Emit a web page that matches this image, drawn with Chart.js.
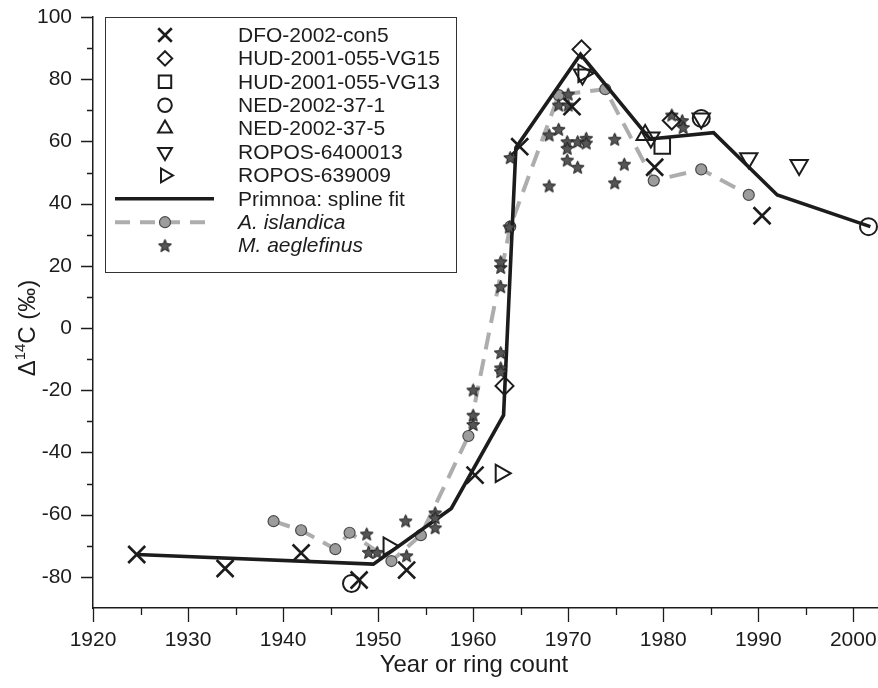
<!DOCTYPE html>
<html>
<head>
<meta charset="utf-8">
<script src="https://cdn.jsdelivr.net/npm/chart.js@4.4.0/dist/chart.umd.min.js"></script>
<style>
  html, body { margin: 0; padding: 0; background: #fff; }
  canvas { display: block; }
</style>
</head>
<body>
<canvas id="c" width="878" height="688"></canvas>
<script>
// --- values: year (or ring count) and Δ14C (‰) ---
const dfoYear   = [1924.6, 1933.9, 1941.9, 1948.0, 1953.0, 1960.2, 1964.9, 1970.4, 1979.1, 1990.4];
const dfoD14C   = [-72.8, -77.3, -72.3, -81.0, -77.8, -47.3, 58.3, 71.2, 51.7, 36.1];

const vg15Year  = [1963.3, 1971.4, 1980.9];
const vg15D14C  = [-18.6, 89.6, 66.7];

const vg13Year  = [1979.9];
const vg13D14C  = [58.5];

const ned1Year  = [1947.2, 1984.0, 2001.6];
const ned1D14C  = [-82.1, 67.4, 32.6];

const ned5Year  = [1978.1];
const ned5D14C  = [62.1];

const ropos13Year = [1971.5, 1978.7, 1984.0, 1989.0, 1994.3];
const ropos13D14C = [81.5, 61.3, 67.4, 54.6, 52.4];

const ropos09Year = [1951.1, 1962.9, 1971.6];
const ropos09D14C = [-70.1, -46.7, 81.9];

const splineYear = [1924.6, 1949.5, 1957.7, 1963.2, 1964.5, 1971.3, 1978.6, 1985.3, 1992.0, 2001.8];
const splineD14C = [-72.8, -75.9, -58.0, -28.0, 58.0, 88.0, 60.8, 62.8, 42.8, 32.6];

const arcticaYear = [1939.0, 1941.9, 1945.5, 1947.0, 1951.4, 1954.5, 1959.5, 1963.9, 1969.0, 1973.9, 1979.0, 1984.0, 1989.0];
const arcticaD14C = [-62.1, -65.0, -71.1, -65.8, -74.9, -66.6, -34.7, 32.6, 74.9, 76.8, 47.4, 51.0, 42.8];

const haddockYear = [1948.8, 1949.0, 1949.9, 1952.9, 1953.0, 1956.0, 1956.0, 1956.0,
                     1960.0, 1960.0, 1960.0, 1962.9, 1962.9, 1962.9, 1962.9, 1962.9, 1962.9, 1963.8, 1963.9,
                     1968.0, 1968.0, 1969.0, 1969.0, 1970.0, 1970.0, 1969.9, 1969.9, 1969.9, 1971.0, 1971.0,
                     1971.9, 1971.9, 1974.9, 1975.9, 1974.9, 1980.9, 1982.0, 1982.1];
const haddockD14C = [-66.2, -72.1, -72.1, -62.0, -73.2, -59.4, -61.0, -64.2,
                     -19.9, -28.0, -31.0, -7.9, -12.8, -14.0, 13.3, 19.5, 21.3, 32.5, 54.8,
                     62.1, 45.7, 63.9, 71.7, 71.7, 75.2, 59.9, 57.8, 54.0, 59.9, 51.7,
                     61.0, 59.5, 60.7, 52.7, 46.7, 68.5, 66.7, 64.5];

const xTicks = [1920, 1930, 1940, 1950, 1960, 1970, 1980, 1990, 2000];
const xMinor = [1925, 1935, 1945, 1955, 1965, 1975, 1985, 1995];
const yTicks = [-80, -60, -40, -20, 0, 20, 40, 60, 80, 100];
const yMinor = [-70, -50, -30, -10, 10, 30, 50, 70, 90];

// --- helpers ---
const pts = (xs, ys) => xs.map((x, i) => ({ x: x, y: ys[i] }));
const INK = '#1c1c1c';
const FONT = '"Liberation Sans", Arial, Helvetica, sans-serif';

// five-pointed star used for M. aeglefinus
function makeStar(r) {
  const c = document.createElement('canvas');
  const s = Math.ceil(r * 2 + 3);
  c.width = s; c.height = s;
  const g = c.getContext('2d');
  g.translate(s / 2, s / 2 + 0.6);
  g.beginPath();
  for (let i = 0; i < 10; i++) {
    const rad = (i % 2 === 0) ? r : r * 0.45;
    const a = -Math.PI / 2 + i * Math.PI / 5;
    g.lineTo(Math.cos(a) * rad, Math.sin(a) * rad);
  }
  g.closePath();
  g.fillStyle = '#555555';
  g.fill();
  g.lineWidth = 1;
  g.strokeStyle = '#1a1a1a';
  g.stroke();
  return c;
}
const starImg = makeStar(6.8);

function markerSet(label, xs, ys, style, radius, rotation, width) {
  return {
    label: label,
    data: pts(xs, ys),
    showLine: false,
    pointStyle: style,
    pointRadius: radius,
    pointRotation: rotation || 0,
    pointBorderWidth: width || 2,
    pointBorderColor: INK,
    pointBackgroundColor: 'rgba(0,0,0,0)',
    clip: false,
    order: 0
  };
}

const datasets = [
  markerSet('DFO-2002-con5', dfoYear, dfoD14C, 'crossRot', 12, 0, 2.6),
  markerSet('HUD-2001-055-VG15', vg15Year, vg15D14C, 'rectRot', 9, 0, 2),
  markerSet('HUD-2001-055-VG13', vg13Year, vg13D14C, 'rect', 11, 0, 2),
  markerSet('NED-2002-37-1', ned1Year, ned1D14C, 'circle', 8.5, 0, 2),
  markerSet('NED-2002-37-5', ned5Year, ned5D14C, 'triangle', 10, 0, 2),
  markerSet('ROPOS-6400013', ropos13Year, ropos13D14C, 'triangle', 10, 180, 2),
  markerSet('ROPOS-639009', ropos09Year, ropos09D14C, 'triangle', 10, 90, 2),
  {
    label: 'Primnoa: spline fit',
    data: pts(splineYear, splineD14C),
    showLine: true,
    borderColor: INK,
    borderWidth: 3.6,
    pointRadius: 0,
    tension: 0,
    clip: false,
    order: 2
  },
  {
    label: 'A. islandica',
    italic: true,
    data: pts(arcticaYear, arcticaD14C),
    showLine: true,
    borderColor: '#adadad',
    borderWidth: 4,
    borderDash: [17, 10],
    pointStyle: 'circle',
    pointRadius: 5.5,
    pointBorderWidth: 1.2,
    pointBorderColor: '#4a4a4a',
    pointBackgroundColor: '#9c9c9c',
    tension: 0,
    order: 3
  },
  {
    label: 'M. aeglefinus',
    italic: true,
    data: pts(haddockYear, haddockD14C),
    showLine: false,
    pointStyle: starImg,
    pointRadius: 7,
    order: 1
  }
];

// --- tick marks (major / minor), drawn through the scales ---
const tickMarks = {
  id: 'tickMarks',
  afterDraw(chart) {
    const { ctx, chartArea: a, scales: { x, y } } = chart;
    ctx.save();
    ctx.strokeStyle = INK;
    ctx.lineWidth = 1.3;
    ctx.beginPath();
    xTicks.concat(xMinor).forEach(v => {
      const px = Math.round(x.getPixelForValue(v)) + 0.5;
      const len = xTicks.includes(v) ? 14 : 7;
      ctx.moveTo(px, a.bottom); ctx.lineTo(px, a.bottom + len);
    });
    yTicks.concat(yMinor).forEach(v => {
      const py = Math.round(y.getPixelForValue(v)) + 0.5;
      const len = yTicks.includes(v) ? 12 : 6;
      ctx.moveTo(a.left - len, py); ctx.lineTo(a.left, py);
    });
    ctx.stroke();
    ctx.restore();
  }
};

// --- axis titles (superscript needs manual drawing) ---
const axisTitles = {
  id: 'axisTitles',
  afterDraw(chart) {
    const ctx = chart.ctx;
    ctx.save();
    ctx.fillStyle = INK;
    ctx.textBaseline = 'middle';
    ctx.font = '24px ' + FONT;
    ctx.textAlign = 'center';
    ctx.fillText('Year or ring count', 474, 665);

    // Δ14C (‰), rotated
    ctx.translate(28, 328);
    ctx.rotate(-Math.PI / 2);
    ctx.textAlign = 'left';
    const big = '24px ' + FONT, small = '15px ' + FONT;
    ctx.font = big; const w1 = ctx.measureText('\u0394').width;
    ctx.font = small; const w2 = ctx.measureText('14').width;
    ctx.font = big; const w3 = ctx.measureText('C (\u2030)').width;
    let x0 = -(w1 + w2 + w3) / 2;
    ctx.font = big; ctx.fillText('\u0394', x0, 0); x0 += w1;
    ctx.font = small; ctx.fillText('14', x0, -7); x0 += w2;
    ctx.font = big; ctx.fillText('C (\u2030)', x0, 0);
    ctx.restore();
  }
};

// --- boxed legend in the upper left ---
const boxLegend = {
  id: 'boxLegend',
  afterDraw(chart) {
    const ctx = chart.ctx;
    const left = 105, top = 17, w = 351, h = 255;
    ctx.save();
    ctx.fillStyle = '#fff';
    ctx.fillRect(left, top, w, h);
    ctx.strokeStyle = '#333';
    ctx.lineWidth = 1;
    ctx.strokeRect(left + 0.5, top + 0.5, w, h);

    const mx = 165, tx = 238;
    chart.data.datasets.forEach((ds, i) => {
      const yy = 35 + i * 23.4;
      if (ds.showLine) {
        ctx.save();
        ctx.strokeStyle = ds.borderColor;
        ctx.lineWidth = ds.borderWidth;
        ctx.setLineDash(ds.borderDash ? [15, 10] : []);
        ctx.beginPath(); ctx.moveTo(115, yy); ctx.lineTo(214, yy); ctx.stroke();
        ctx.restore();
      }
      if (ds.pointStyle && ds.pointRadius > 0) {
        ctx.save();
        ctx.strokeStyle = ds.pointBorderColor || INK;
        ctx.fillStyle = ds.pointBackgroundColor || 'rgba(0,0,0,0)';
        ctx.lineWidth = ds.pointBorderWidth || 1.5;
        const isImg = typeof ds.pointStyle !== 'string';
        Chart.helpers.drawPoint(ctx, {
          pointStyle: ds.pointStyle,
          rotation: ds.pointRotation || 0,
          radius: isImg ? ds.pointRadius : (ds.label === 'A. islandica' ? ds.pointRadius : ds.pointRadius * 0.8),
          borderWidth: ds.pointBorderWidth || 1.5
        }, mx, yy);
        ctx.restore();
      }
      ctx.fillStyle = INK;
      ctx.textBaseline = 'middle';
      ctx.textAlign = 'left';
      ctx.font = (ds.italic ? 'italic ' : '') + '21px ' + FONT;
      ctx.fillText(ds.label, tx, yy + 1);
    });
    ctx.restore();
  }
};

// invisible tick marks give the label offset without adding scale padding
const hiddenTicks = len => ({
  display: true, drawOnChartArea: false, drawTicks: true,
  tickLength: len, tickColor: 'rgba(0,0,0,0)'
});

new Chart(document.getElementById('c'), {
  type: 'scatter',
  data: { datasets: datasets },
  options: {
    responsive: false,
    animation: false,
    devicePixelRatio: 1,
    layout: { autoPadding: false, padding: { top: 17, right: 0, left: 0, bottom: 0 } },
    plugins: { legend: { display: false }, tooltip: { enabled: false } },
    scales: {
      x: {
        type: 'linear',
        min: 1920,
        max: 2002.6,
        afterBuildTicks: s => { s.ticks = xTicks.map(v => ({ value: v })); },
        afterFit: s => { s.height = 80; s.paddingLeft = 0; s.paddingRight = 0; },
        grid: hiddenTicks(20),
        border: { display: true, color: INK, width: 1.5 },
        ticks: {
          color: INK,
          font: { family: FONT, size: 21 },
          padding: 0,
          maxRotation: 0,
          autoSkip: false,
          callback: v => String(v)
        }
      },
      y: {
        type: 'linear',
        min: -90,
        max: 100,
        afterBuildTicks: s => { s.ticks = yTicks.map(v => ({ value: v })); },
        afterFit: s => { s.width = 93; s.paddingTop = 0; s.paddingBottom = 0; },
        grid: hiddenTicks(21),
        border: { display: true, color: INK, width: 1.5 },
        ticks: {
          color: INK,
          font: { family: FONT, size: 21 },
          padding: 0,
          autoSkip: false,
          callback: v => String(v)
        }
      }
    }
  },
  plugins: [tickMarks, axisTitles, boxLegend]
});
</script>
</body>
</html>
